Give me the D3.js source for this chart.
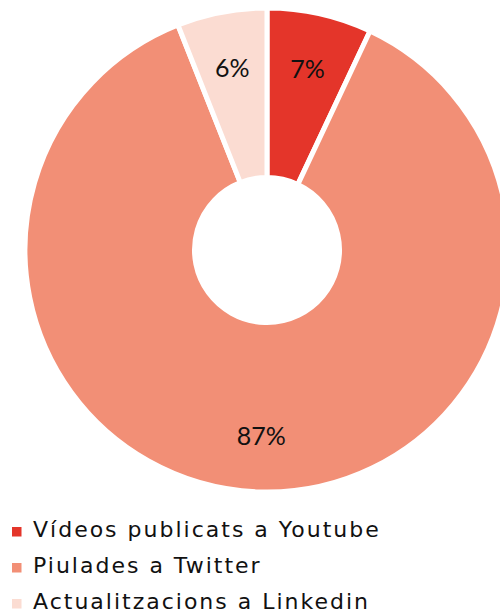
<!DOCTYPE html>
<html>
<head>
<meta charset="utf-8">
<script src="https://cdn.jsdelivr.net/npm/d3@7"></script>
<style>
  html, body { margin: 0; padding: 0; background: #fff; overflow: hidden; }
  svg { display: block; }
</style>
</head>
<body>
<svg id="chart" width="500" height="609"></svg>
<script>
const categories = ["Vídeos publicats a Youtube", "Piulades a Twitter", "Actualitzacions a Linkedin"];
const values = [7, 87, 6];
const valueLabels = ["7%", "87%", "6%"];
const colors = ["#E4352A", "#F28F76", "#FBDCD2"];

const svg = d3.select("#chart");
const cx = 267, cy = 250;
const outerR = 242, innerR = 72.5, labelR = 186;

const pie = d3.pie().sort(null).value(d => d.value);
const data = categories.map((c, i) => ({ name: c, value: values[i], label: valueLabels[i], color: colors[i] }));
const arcs = pie(data);

const arc = d3.arc().innerRadius(innerR).outerRadius(outerR);
const labelArc = d3.arc().innerRadius(labelR).outerRadius(labelR);

const g = svg.append("g").attr("transform", `translate(${cx},${cy})`);

g.selectAll("path.slice")
  .data(arcs)
  .join("path")
  .attr("class", "slice")
  .attr("d", arc)
  .attr("fill", d => d.data.color)
  .attr("stroke", "#fff")
  .attr("stroke-width", 5)
  .attr("stroke-linejoin", "miter");

g.selectAll("text.val")
  .data(arcs)
  .join("text")
  .attr("class", "val")
  .attr("transform", d => `translate(${labelArc.centroid(d)})`)
  .attr("text-anchor", "middle")
  .attr("dy", "0.38em")
  .attr("font-family", "Lato, 'Open Sans', sans-serif")
  .attr("font-size", 25)
  .attr("fill", "#111")
  .text(d => d.data.label);

const legend = svg.append("g").attr("transform", "translate(12, 537)");
const rowH = 36;
const items = legend.selectAll("g.item")
  .data(data)
  .join("g")
  .attr("class", "item")
  .attr("transform", (d, i) => `translate(0, ${i * rowH})`);

items.append("rect")
  .attr("x", 0).attr("y", -10)
  .attr("width", 9.5).attr("height", 9.5)
  .attr("fill", d => d.color);

items.append("text")
  .attr("x", 21)
  .attr("y", 0)
  .attr("font-family", "'DejaVu Sans', sans-serif")
  .attr("font-size", 22)
  .attr("letter-spacing", 2)
  .attr("fill", "#111")
  .text(d => d.name);
</script>
</body>
</html>
